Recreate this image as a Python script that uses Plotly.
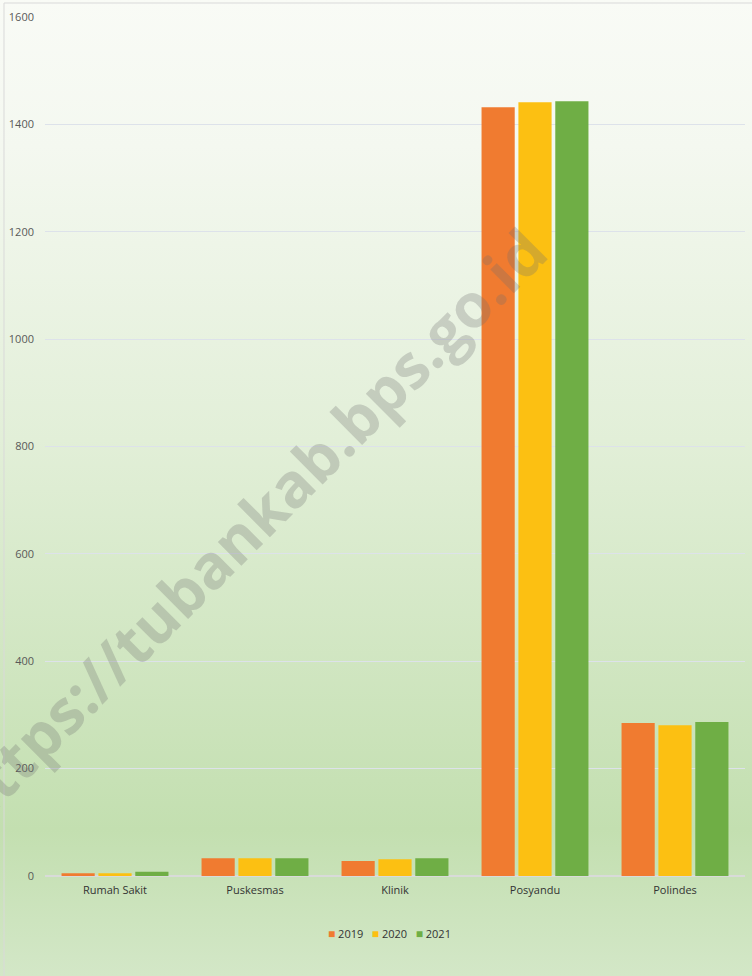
import plotly.graph_objects as go

categories = ['Rumah Sakit', 'Puskesmas', 'Klinik', 'Posyandu', 'Polindes']
years = ['2019', '2020', '2021']
values_2019 = [5, 33, 28, 1432, 285]
values_2020 = [5, 33, 31, 1441, 281]
values_2021 = [8, 33, 33, 1443, 287]
series = [values_2019, values_2020, values_2021]
colors = ['#f07b30', '#fcc012', '#6fae45']

# gradient background as inline svg
bg_svg = (
    "data:image/svg+xml;utf8,"
    "<svg xmlns='http://www.w3.org/2000/svg' width='752' height='976' preserveAspectRatio='none'>"
    "<defs><linearGradient id='g' x1='0' y1='0' x2='0' y2='1'>"
    "<stop offset='0' stop-color='%23f9fbf6'/>"
    "<stop offset='0.15' stop-color='%23f4f8f0'/>"
    "<stop offset='0.45' stop-color='%23e2efd8'/>"
    "<stop offset='0.85' stop-color='%23c3dfb0'/>"
    "<stop offset='1' stop-color='%23d3e7c7'/>"
    "</linearGradient></defs>"
    "<rect width='752' height='976' fill='url(%23g)'/></svg>"
)

fig = go.Figure()
for year, vals, col in zip(years, series, colors):
    fig.add_trace(go.Bar(x=categories, y=vals, name=year, showlegend=False,
                         marker=dict(color=col, line=dict(width=0))))

# compact legend like the original (small squares, tight spacing)
legend_text = '&nbsp;&nbsp;&nbsp;'.join(
    f"<span style='color:{c}; font-size:12px'>■</span>&nbsp;{y}" for y, c in zip(years, colors))

fig.update_layout(
    width=752, height=976,
    margin=dict(l=45, r=7, t=17, b=100, autoexpand=False),
    paper_bgcolor='rgba(0,0,0,0)',
    plot_bgcolor='rgba(0,0,0,0)',
    barmode='group',
    bargap=0.21,
    bargroupgap=0.1,
    font=dict(family='Open Sans, Noto Sans, sans-serif', size=11, color='#404040'),
    xaxis=dict(showgrid=False, showline=False, ticks='', ticklabelstandoff=6,
               tickfont=dict(size=11, color='#333333')),
    yaxis=dict(range=[0, 1600], dtick=200, showgrid=True, gridcolor='#dde2ea', gridwidth=1,
               zeroline=True, zerolinecolor='#d9dbd9', zerolinewidth=2,
               tickfont=dict(size=11, color='#595959'), ticklabelstandoff=10),
    images=[dict(source=bg_svg, xref='paper', yref='paper',
                 x=-45 / 700, y=1 + 17 / 859, sizex=752 / 700, sizey=976 / 859,
                 sizing='stretch', xanchor='left', yanchor='top', layer='below')],
    shapes=[dict(type='rect', xref='paper', yref='paper',
                 x0=-41 / 700, x1=1 + 10 / 700, y0=-110 / 859, y1=1 + 14 / 859,
                 line=dict(color='#d9d9d9', width=1), fillcolor='rgba(0,0,0,0)', layer='below')],
    annotations=[
        dict(text='<b>https://tubankab.bps.go.id</b>', xref='paper', yref='paper',
             x=(246 - 45) / 700, y=(876 - 527) / 859, xanchor='center', yanchor='middle',
             showarrow=False, textangle=-45,
             font=dict(family='Open Sans, Noto Sans, sans-serif', size=61,
                       color='rgba(110,110,110,0.28)')),
        dict(text=legend_text, xref='paper', yref='paper',
             x=(389 - 45) / 700, y=(876 - 933) / 859, xanchor='center', yanchor='middle',
             showarrow=False, font=dict(size=11, color='#333333')),
    ],
)

# drop the browser's default body margin so the figure sits at the page corner
fig.write_html('out.html', config={'displayModeBar': False},
               post_script="document.body.style.margin='0';")
